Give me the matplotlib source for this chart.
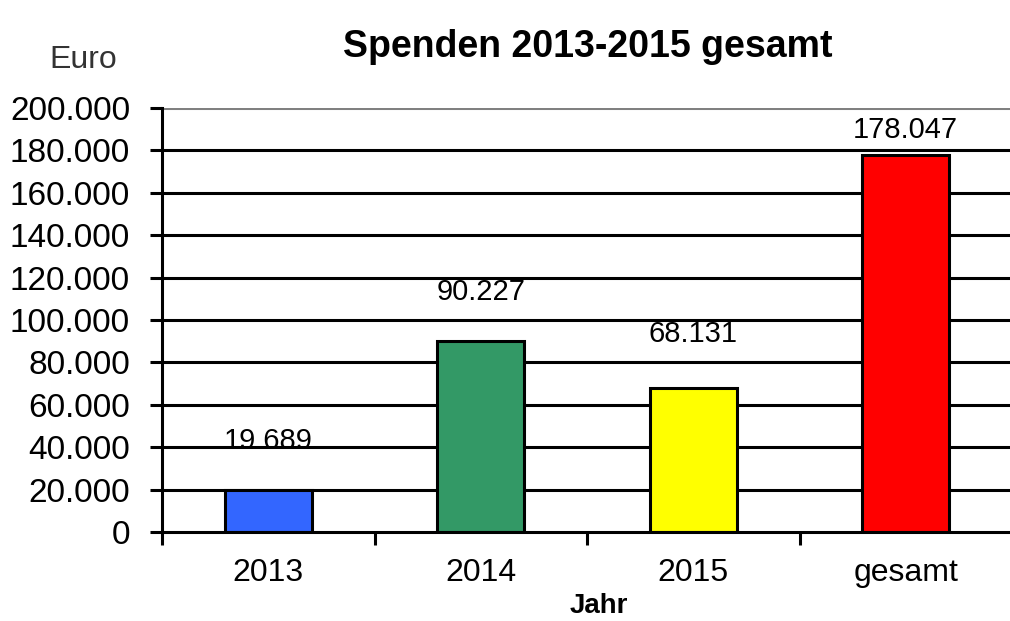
import matplotlib.pyplot as plt
import matplotlib as mpl
from matplotlib.ticker import FuncFormatter, FixedLocator

mpl.rcParams["font.family"] = ["Liberation Sans", "DejaVu Sans"]

categories = ["2013", "2014", "2015", "gesamt"]
values = [19689, 90227, 68131, 178047]
colors = ["#3366ff", "#339966", "#ffff00", "#ff0000"]
label_offsets_px = [49, 49, 54, 25]


def de_fmt(v, _pos=None):
    return f"{int(round(v)):,}".replace(",", ".")


def main():
    fig = plt.figure(figsize=(10.1, 6.21), dpi=100)
    ax = fig.add_axes([162 / 1010, 1 - 532 / 621, 1 - 162 / 1010 + 0.002, (532 - 108) / 621])

    x = range(len(categories))
    ax.bar(x, values, width=0.41, color=colors, edgecolor="black", linewidth=2.2, zorder=3)

    ax.set_ylim(0, 200000)
    ax.set_xlim(-0.5, len(categories) - 0.5)
    yt = list(range(0, 200001, 20000))
    ax.set_yticks(yt)
    ax.yaxis.set_major_formatter(FuncFormatter(de_fmt))
    for y in yt[1:]:
        ax.axhline(y, color="#808080" if y == 200000 else "black", linewidth=2.2, zorder=1)

    ax.set_xticks(list(x))
    ax.set_xticklabels(categories)
    ax.xaxis.set_minor_locator(FixedLocator([i - 0.5 for i in range(len(categories) + 1)]))
    ax.tick_params(axis="x", which="major", length=0, pad=19, labelsize=23)
    ax.tick_params(axis="x", which="minor", length=9, width=2.2, direction="out")
    ax.tick_params(axis="y", length=9, width=2.2, direction="out", pad=14, labelsize=24)

    for s in ["top", "right"]:
        ax.spines[s].set_visible(False)
    for s in ["left", "bottom"]:
        ax.spines[s].set_linewidth(2.2)
        ax.spines[s].set_zorder(4)

    for i, (v, off) in enumerate(zip(values, label_offsets_px)):
        ax.annotate(de_fmt(v), (i, v), xytext=(0, off * 0.72), textcoords="offset points",
                    ha="center", va="center", fontsize=21, zorder=5)

    fig.text(588 / 1010, 1 - 47 / 621, "Spenden 2013-2015 gesamt", ha="center", va="center",
             fontsize=27, fontweight="bold")
    fig.text(83 / 1010, 1 - 60 / 621, "Euro", ha="center", va="center", fontsize=23, color="#333333")
    fig.text(599 / 1010, 1 - 606 / 621, "Jahr", ha="center", va="center", fontsize=20, fontweight="bold")

    fig.savefig("out.png", dpi=100)
    plt.close(fig)


if __name__ == "__main__":
    main()
